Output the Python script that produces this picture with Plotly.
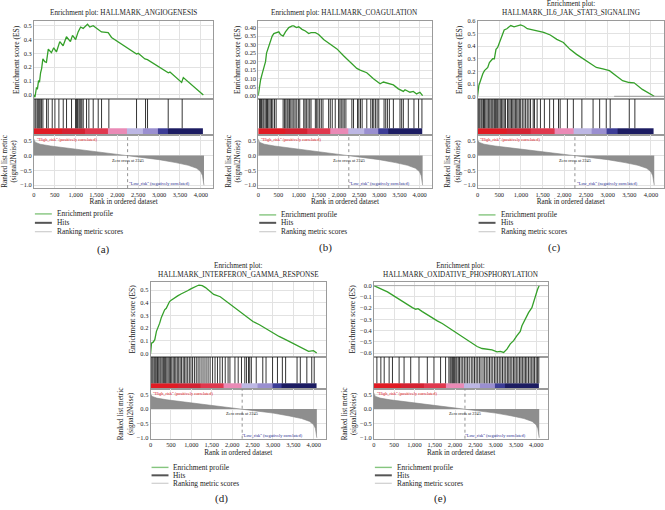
import plotly.graph_objects as go

W, H = 665, 510
FONT = "Liberation Serif"

# ---------------- data ----------------
x_ticks = [0, 500, 1000, 1500, 2000, 2500, 3000, 3500, 4000]
zero_cross = 2245

metric_rank = [0, 10, 40, 150, 400, 800, 1200, 1600, 2000, 2245, 2600, 3000, 3400, 3700, 3900, 4000, 4040, 4065, 4075]
metric_value = [0.56, 0.50, 0.44, 0.38, 0.32, 0.25, 0.19, 0.13, 0.06, 0.0, -0.07, -0.14, -0.24, -0.33, -0.43, -0.55, -0.68, -0.85, -1.0]

band_edges = [0, 660, 1220, 1780, 2220, 2620, 2980, 3220, 4060]
band_level = [0, 1, 2, 3, 4, 5, 6, 7]

angio_rank = [0, 25, 60, 85, 110, 135, 160, 185, 215, 260, 300, 345, 420, 475, 540, 620, 700, 780, 875, 925,
              1000, 1060, 1120, 1180, 1285, 1340, 1420, 1460, 1620, 1780, 1860, 2460, 2500, 2660, 2720, 3220,
              3260, 3540, 3580, 4060]
angio_es = [0.0, -0.017, 0.05, 0.045, 0.10, 0.095, 0.16, 0.19, 0.26, 0.24, 0.235, 0.33, 0.305, 0.34, 0.31, 0.385,
            0.355, 0.42, 0.385, 0.43, 0.40, 0.455, 0.49, 0.48, 0.51, 0.49, 0.50, 0.49, 0.455, 0.45, 0.415, 0.295,
            0.30, 0.26, 0.255, 0.16, 0.165, 0.09, 0.125, 0.0]
angio_hits = [24, 48, 80, 104, 128, 152, 184, 216, 303, 343, 439, 503, 599, 703, 782, 902, 998, 1022, 1046, 1078,
              1102, 1126, 1150, 1182, 1261, 1317, 1421, 1541, 1621, 1796, 2459, 2675, 2723, 3218, 3553]

coag_rank = [0, 20, 58, 99, 140, 181, 206, 263, 305, 346, 387, 469, 510, 551, 617, 675, 757, 840, 881, 947, 1004,
             1086, 1169, 1251, 1309, 1416, 1498, 1621, 1786, 1951, 2115, 2280, 2444, 2527, 2691, 2856, 3021, 3103,
             3226, 3350, 3473, 3597, 3638, 3761, 3844, 3926, 4008, 4075]
coag_es = [0.0, 0.034, 0.092, 0.13, 0.16, 0.20, 0.25, 0.29, 0.33, 0.35, 0.365, 0.37, 0.375, 0.36, 0.35, 0.375,
           0.40, 0.41, 0.41, 0.40, 0.405, 0.39, 0.38, 0.365, 0.37, 0.37, 0.36, 0.33, 0.30, 0.275, 0.235, 0.20,
           0.16, 0.15, 0.135, 0.10, 0.07, 0.08, 0.07, 0.063, 0.04, 0.025, 0.035, 0.02, 0.025, 0.01, 0.02, 0.0]
coag_hits = [33, 58, 82, 115, 140, 173, 206, 230, 263, 296, 329, 362, 403, 444, 617, 650, 683, 716, 741, 774, 807,
             840, 881, 914, 955, 996, 1029, 1128, 1160, 1193, 1235, 1276, 1309, 1416, 1449, 1481, 1523, 1564, 1605,
             1745, 1786, 1835, 1909, 1992, 2025, 2058, 2099, 2132, 2173, 2321, 2362, 2461, 2494, 2535, 2576, 2691,
             2790, 2831, 2864, 2905, 2947, 2988, 3119, 3160, 3202, 3251, 3350, 3514, 3556, 3597, 3720, 3860, 3975,
             4058]

il6_rank = [0, 8, 30, 53, 83, 121, 159, 197, 235, 273, 311, 349, 387, 425, 463, 501, 539, 577, 614, 675, 728, 766,
            842, 918, 994, 1070, 1146, 1221, 1297, 1373, 1525, 1677, 1828, 1980, 2132, 2283, 2435, 2587, 2739,
            2890, 3042, 3194, 3345, 3497, 3611, 3801, 4074]
il6_es = [0.0, 0.047, 0.087, 0.11, 0.15, 0.18, 0.205, 0.22, 0.23, 0.27, 0.285, 0.30, 0.30, 0.375, 0.39, 0.43,
          0.455, 0.495, 0.53, 0.54, 0.555, 0.565, 0.555, 0.56, 0.57, 0.56, 0.54, 0.535, 0.53, 0.52, 0.51, 0.49,
          0.455, 0.43, 0.375, 0.335, 0.30, 0.26, 0.23, 0.22, 0.205, 0.165, 0.125, 0.11, 0.108, 0.055, 0.0]
il6_hits = [8, 30, 53, 83, 106, 137, 159, 190, 220, 250, 281, 311, 334, 357, 387, 410, 433, 463, 493, 524, 554,
            584, 615, 645, 691, 721, 751, 782, 812, 842, 873, 903, 933, 964, 994, 1032, 1070, 1108, 1146, 1184,
            1222, 1283, 1313, 1374, 1450, 1541, 1662, 1753, 1867, 1905, 2072, 2209, 2406, 2664, 2816, 2968, 3059,
            3499, 3628]

ifng_rank = [0, 24, 64, 104, 144, 184, 224, 265, 305, 345, 385, 425, 465, 505, 585, 665, 745, 826, 906, 986, 1066,
             1146, 1186, 1267, 1347, 1427, 1547, 1708, 1868, 2028, 2188, 2349, 2509, 2669, 2830, 2990, 3150, 3311,
             3471, 3631, 3792, 3872, 3992, 4072]
ifng_es = [0.0, 0.083, 0.09, 0.11, 0.175, 0.205, 0.24, 0.285, 0.32, 0.345, 0.357, 0.39, 0.41, 0.42, 0.44, 0.455,
           0.47, 0.48, 0.495, 0.51, 0.525, 0.535, 0.54, 0.535, 0.52, 0.50, 0.466, 0.448, 0.41, 0.37, 0.33, 0.29,
           0.253, 0.227, 0.195, 0.16, 0.135, 0.11, 0.083, 0.057, 0.031, 0.018, 0.023, 0.005]
ifng_hits = [10, 35, 60, 90, 115, 140, 170, 200, 230, 255, 285, 315, 345, 370, 400, 430, 460, 490, 520, 555, 590,
             620, 655, 690, 725, 760, 800, 835, 870, 910, 950, 990, 1030, 1075, 1120, 1165, 1210, 1260, 1310, 1360,
             1410, 1460, 1520, 1580, 1640, 1700, 1760, 1830, 1900, 1945, 2068, 2148, 2228, 2310, 2350, 2400, 2430,
             2470, 2590, 2750, 2830, 2990, 3110, 3230, 3310, 3590, 3670, 3830, 3950, 4010]

oxphos_rank = [0, 90, 213, 335, 458, 581, 703, 826, 949, 1031, 1088, 1194, 1317, 1440, 1562, 1685, 1808, 1930,
               2053, 2176, 2299, 2421, 2544, 2667, 2789, 2912, 3035, 3117, 3198, 3280, 3362, 3444, 3526, 3608,
               3649, 3730, 3812, 3894, 3975, 4033, 4075]
oxphos_es = [0.0, -0.012, -0.035, -0.056, -0.085, -0.114, -0.143, -0.173, -0.196, -0.21, -0.205, -0.231, -0.26,
             -0.29, -0.313, -0.337, -0.366, -0.39, -0.418, -0.448, -0.483, -0.512, -0.541, -0.559, -0.565, -0.571,
             -0.588, -0.585, -0.594, -0.565, -0.518, -0.489, -0.445, -0.407, -0.357, -0.298, -0.24, -0.196, -0.094,
             -0.035, 0.0]
oxphos_hits = [74, 172, 254, 376, 458, 622, 744, 908, 1112, 1317, 1481, 1644, 1767, 1849, 1880, 1905, 1935, 1960,
               1990, 2020, 2045, 2080, 2110, 2150, 2190, 2230, 2270, 2310, 2350, 2400, 2440, 2480, 2520, 2560,
               2600, 2640, 2690, 2730, 2770, 2810, 2850, 2890, 2930, 2975, 3010, 3050, 3090, 3130, 3170, 3210,
               3250, 3290, 3325, 3360, 3400, 3440, 3475, 3510, 3550, 3590, 3625, 3660, 3700, 3735, 3770, 3810,
               3850, 3890, 3925, 3960, 4000, 4035, 4065]

titles = ["Enrichment plot: HALLMARK_ANGIOGENESIS",
          "Enrichment plot: HALLMARK_COAGULATION",
          "Enrichment plot:<br>HALLMARK_IL6_JAK_STAT3_SIGNALING",
          "Enrichment plot:<br>HALLMARK_INTERFERON_GAMMA_RESPONSE",
          "Enrichment plot:<br>HALLMARK_OXIDATIVE_PHOSPHORYLATION"]
panel_labels = ["(a)", "(b)", "(c)", "(d)", "(e)"]
legend_labels = ["Enrichment profile", "Hits", "Ranking metric scores"]
high_label = "\"High_risk\" (positively correlated)"
low_label = "\"Low_risk\" (negatively correlated)"
zero_label = "Zero cross at 2245"

es_series = [(angio_rank, angio_es, angio_hits), (coag_rank, coag_es, coag_hits), (il6_rank, il6_es, il6_hits),
             (ifng_rank, ifng_es, ifng_hits), (oxphos_rank, oxphos_es, oxphos_hits)]

# ---------------- layout geometry (pixels) ----------------
geo = [
    dict(x0=32, x1=212, top=18, es_bot=97, hits_bot=133, rank_bot=187, leg=[213, 222, 231], lab=(102, 249),
         es_range=[-0.03, 0.535], es_dtick=0.1, es_fmt=".1f", rk_range=[-1.1, 0.7]),
    dict(x0=257, x1=431, top=18, es_bot=97, hits_bot=133, rank_bot=187, leg=[214, 222, 231], lab=(324, 247),
         es_range=[-0.02, 0.44], es_dtick=0.05, es_fmt=".2f", rk_range=[-1.1, 0.7]),
    dict(x0=477, x1=664, top=18, es_bot=97, hits_bot=133, rank_bot=187, leg=[214, 222, 231], lab=(554, 247),
         es_range=[-0.022, 0.603], es_dtick=0.1, es_fmt=".1f", rk_range=[-1.1, 0.7]),
    dict(x0=149, x1=325, top=282, es_bot=357, hits_bot=390, rank_bot=440, leg=[469, 477, 485], lab=(220, 500),
         es_range=[-0.023, 0.5625], es_dtick=0.1, es_fmt=".1f", rk_range=[-1.03, 0.69]),
    dict(x0=373, x1=548, top=282, es_bot=357, hits_bot=390, rank_bot=440, leg=[469, 477, 485], lab=(440, 500),
         es_range=[-0.63, 0.03], es_dtick=0.1, es_fmt=".1f", rk_range=[-1.03, 0.69]),
]

band_colors = ["#e01b24", "#d42232", "#e0384e", "#ea8ab6", "#bdb7e4", "#9a8fd0", "#3c3c96", "#1c1c62"]
ncol = len(band_colors)
cscale = []
for i, c in enumerate(band_colors):
    cscale.append([i / ncol, c])
    cscale.append([(i + 1) / ncol, c])

GREEN = "#35a02a"
GRID = "#e2e2e2"
FRAME = "#9a9a9a"
TXT = "#222"
XR = [0, 4300]


def px_x(p):
    return p / W


def px_y(p):
    return 1 - p / H


def ax(k, kind):
    return ("x" if k == 1 else f"x{k}") if kind == "x" else ("y" if k == 1 else f"y{k}")


def key(k, kind):
    return (kind + "axis") if k == 1 else f"{kind}axis{k}"


fig = go.Figure()
layout = {}
shapes = []
annots = []
tickfont = dict(family=FONT, size=6.4, color=TXT)

for i, (g, (rk, es, hits)) in enumerate(zip(geo, es_series)):
    k1, k2, k3 = 3 * i + 1, 3 * i + 2, 3 * i + 3
    xd = [px_x(g["x0"]), px_x(g["x1"])]
    common_x = dict(domain=xd, range=XR, showline=True, mirror=True, linecolor=FRAME, linewidth=0.8,
                    zeroline=False, ticks="", tickvals=x_ticks)
    # ES subplot
    layout[key(k1, "x")] = dict(common_x, anchor=ax(k1, "y"), showticklabels=False, showgrid=True,
                                gridcolor=GRID, gridwidth=0.6)
    layout[key(k1, "y")] = dict(domain=[px_y(g["es_bot"]), px_y(g["top"])], anchor=ax(k1, "x"),
                                range=g["es_range"], dtick=g["es_dtick"], tick0=0, tickformat=g["es_fmt"],
                                showline=True, mirror=True, linecolor=FRAME, linewidth=0.8, zeroline=False,
                                showgrid=True, gridcolor=GRID, gridwidth=0.6, ticks="", tickfont=tickfont,
                                title=dict(text="Enrichment score (ES)", font=dict(family=FONT, size=7.5, color=TXT),
                                           standoff=3))
    # hits subplot
    layout[key(k2, "x")] = dict(common_x, anchor=ax(k2, "y"), showticklabels=False, showgrid=False)
    layout[key(k2, "y")] = dict(domain=[px_y(g["hits_bot"]), px_y(g["es_bot"])], anchor=ax(k2, "x"),
                                range=[0, 1], showticklabels=False, showgrid=False, showline=True, mirror=True,
                                linecolor=FRAME, linewidth=0.8, zeroline=False, ticks="")
    # ranked subplot
    layout[key(k3, "x")] = dict(common_x, anchor=ax(k3, "y"), showticklabels=True, tickformat=",d",
                                showgrid=True, gridcolor=GRID, gridwidth=0.6, tickfont=tickfont,
                                title=dict(text="Rank in ordered dataset", font=dict(family=FONT, size=7.2, color=TXT),
                                           standoff=2))
    layout[key(k3, "y")] = dict(domain=[px_y(g["rank_bot"]), px_y(g["hits_bot"])], anchor=ax(k3, "x"),
                                range=g["rk_range"], tickvals=[0.5, 0.0, -0.5, -1.0], tickformat=".1f",
                                showline=True, mirror=True, linecolor=FRAME, linewidth=0.8, zeroline=False,
                                showgrid=True, gridcolor=GRID, gridwidth=0.6, ticks="", tickfont=tickfont,
                                title=dict(text="Ranked list metric<br>(signal2Noise)",
                                           font=dict(family=FONT, size=7.2, color=TXT), standoff=2))

    # traces
    fig.add_trace(go.Scatter(x=rk, y=es, mode="lines", line=dict(color=GREEN, width=1.3),
                             xaxis=ax(k1, "x"), yaxis=ax(k1, "y"), showlegend=False, hoverinfo="skip"))
    hx, hy = [], []
    for h in hits:
        hx += [h, h, None]
        hy += [0.18, 1.0, None]
    fig.add_trace(go.Scatter(x=hx, y=hy, mode="lines", line=dict(color="#111", width=0.85),
                             xaxis=ax(k2, "x"), yaxis=ax(k2, "y"), showlegend=False, hoverinfo="skip"))
    fig.add_trace(go.Heatmap(x=band_edges, y=[0, 0.18], z=[band_level], colorscale=cscale, zmin=-0.5,
                             zmax=ncol - 0.5, showscale=False, xaxis=ax(k2, "x"), yaxis=ax(k2, "y"),
                             hoverinfo="skip"))
    fig.add_trace(go.Scatter(x=metric_rank, y=metric_value, mode="lines", fill="tozeroy",
                             fillcolor="#8e8e8e", line=dict(color="#858585", width=0.6),
                             xaxis=ax(k3, "x"), yaxis=ax(k3, "y"), showlegend=False, hoverinfo="skip"))

    # zero-cross dashed line
    shapes.append(dict(type="line", xref=ax(k3, "x"), yref=ax(k3, "y") + " domain", x0=zero_cross, x1=zero_cross,
                       y0=0, y1=1, line=dict(color="#777", width=0.8, dash="dot")))
    if i == 2:
        shapes.append(dict(type="line", xref=ax(k1, "x"), yref=ax(k1, "y"), x0=3150, x1=XR[1], y0=0, y1=0,
                           line=dict(color="#999", width=1)))
    if i == 4:
        shapes.append(dict(type="line", xref=ax(k1, "x"), yref=ax(k1, "y"), x0=0, x1=XR[1], y0=0, y1=0,
                           line=dict(color="#aaa", width=1)))

    # in-plot labels
    annots.append(dict(text=zero_label, xref=ax(k3, "x"), yref=ax(k3, "y"), x=zero_cross, y=-0.16,
                       showarrow=False, font=dict(family=FONT, size=4.3, color="#222"), xanchor="center"))
    annots.append(dict(text=high_label, xref=ax(k3, "x") + " domain", yref=ax(k3, "y") + " domain", x=0.005, y=1.0,
                       showarrow=False, font=dict(family=FONT, size=4.3, color="#e0101a"), xanchor="left",
                       yanchor="top"))
    annots.append(dict(text=low_label, xref=ax(k3, "x"), yref=ax(k3, "y"), x=3000, y=-0.93,
                       showarrow=False, font=dict(family=FONT, size=4.3, color="#1a1a8c"), xanchor="center"))

    # title
    cx = (g["x0"] + g["x1"]) / 2
    annots.append(dict(text=titles[i], xref="paper", yref="paper", x=px_x(cx), y=px_y(g["top"] - 1.5),
                       showarrow=False, font=dict(family=FONT, size=7.2, color=TXT), xanchor="center",
                       yanchor="bottom"))

    # legend (drawn)
    leg_styles = [(GREEN, 1.4, 0.6), ("#555", 2.0, 1.0), ("#c4c4c4", 1.0, 1.0)]
    for (col, wdt, op), lab, yy in zip(leg_styles, legend_labels, g["leg"]):
        shapes.append(dict(type="line", xref="paper", yref="paper", x0=px_x(g["x0"] + 1), x1=px_x(g["x0"] + 18),
                           y0=px_y(yy), y1=px_y(yy), line=dict(color=col, width=wdt), opacity=op))
        annots.append(dict(text=lab, xref="paper", yref="paper", x=px_x(g["x0"] + 21), y=px_y(yy),
                           showarrow=False, xanchor="left", yanchor="middle",
                           font=dict(family=FONT, size=7.4, color=TXT)))
    # panel label
    annots.append(dict(text=panel_labels[i], xref="paper", yref="paper", x=px_x(g["lab"][0]), y=px_y(g["lab"][1]),
                       showarrow=False, xanchor="center", yanchor="middle",
                       font=dict(family=FONT, size=11, color=TXT)))

fig.update_layout(width=W, height=H, margin=dict(l=0, r=0, t=0, b=0), paper_bgcolor="white",
                  plot_bgcolor="white", showlegend=False, shapes=shapes, annotations=annots,
                  font=dict(family=FONT, color=TXT), **layout)

fig.write_html("out.html", config={"displayModeBar": False},
               post_script="document.body.style.margin='0';document.body.style.overflow='hidden';")
